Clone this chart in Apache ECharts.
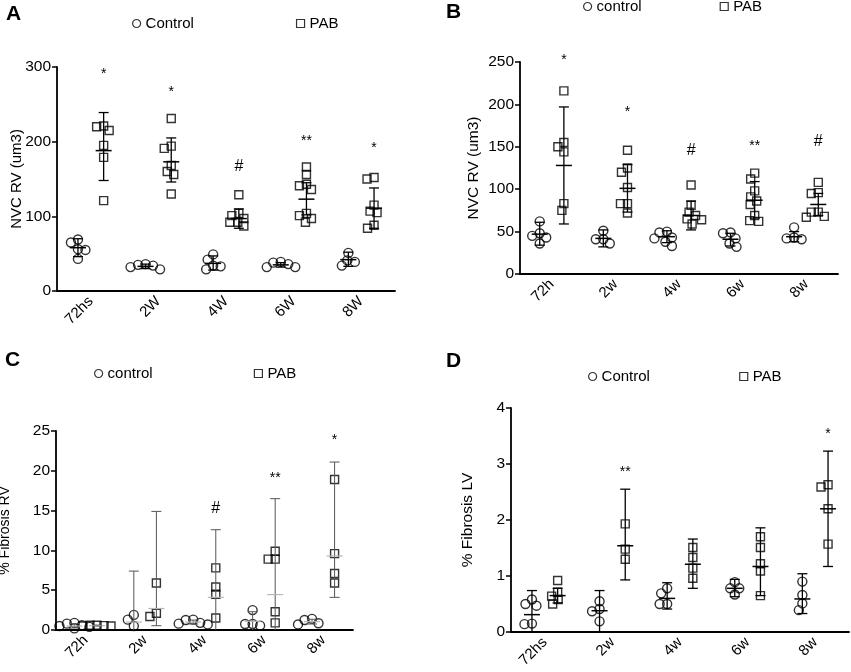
<!DOCTYPE html>
<html>
<head>
<meta charset="utf-8">
<script src="https://cdn.jsdelivr.net/npm/echarts@6.0.0/dist/echarts.min.js"></script>
<style>
  html, body { margin: 0; padding: 0; background: #fff; }
  #chart { width: 851px; height: 672px; }
</style>
</head>
<body>
<div id="chart"></div>
<script>
// ---- data ----
// panel A: NVC RV (um3)
var catA = ['72hs', '2W', '4W', '6W', '8W'];
var ticksA = [0, 100, 200, 300];
var ctrlA = [[69, 65, 56, 55, 43], [29, 32, 34, 36, 35], [49, 42, 34, 33, 29], [39, 38, 36, 32, 32], [51, 41, 39, 34]];
var pabA = [[221, 220, 215, 195, 179, 121], [231, 194, 191, 168, 160, 156, 130], [129, 104, 101, 97, 92, 92, 87],
            [166, 156, 143, 141, 136, 104, 101, 97, 92], [152, 150, 115, 107, 105, 88, 84]];
// [mean, low, high]
var ctrlBarsA = [[58, 46, 70], [33, 30, 36], [37, 28, 47], [35, 32, 38], [42, 33, 52]];
var pabBarsA = [[188, 148, 239], [173, 146, 205], [97, 84, 110], [123, 102, 145], [111, 84, 138]];
var marksA = ['*', '*', '#', '**', '*'];
var markYA = [295, 270, 167, 205, 196];

// panel B: NVC RV (um3)
var catB = ['72h', '2w', '4w', '6w', '8w'];
var ticksB = [0, 50, 100, 150, 200, 250];
var ctrlB = [[62, 48, 45, 43, 36], [51, 41, 41, 36], [50, 49, 43, 42, 38, 33], [49, 48, 42, 36, 32], [55, 43, 42, 41]];
var pabB = [[216, 155, 150, 144, 83, 75], [146, 125, 120, 102, 83, 83, 72], [105, 81, 73, 69, 65, 64, 59],
            [119, 112, 98, 91, 86, 82, 69, 63, 62], [108, 96, 95, 73, 73, 68, 67]];
var ctrlBarsB = [[47, 34, 61], [42, 32, 52], [44, 37, 51], [41, 33, 48], [44, 38, 50]];
var pabBarsB = [[128, 59, 197], [101, 73, 129], [69, 52, 86], [87, 66, 109], [82, 69, 95]];
var marksB = ['*', '*', '#', '**', '#'];
var markYB = [256, 194, 146, 154, 156];

// panel C: % Fibrosis RV
var catC = ['72h', '2w', '4w', '6w', '8w'];
var ticksC = [0, 5, 10, 15, 20, 25];
var ctrlC = [[0.9, 0.8, 0.6, 0.5, 0.4, 0.2], [1.9, 1.3, 0.5], [1.3, 1.25, 0.9, 0.8, 0.7], [2.5, 0.75, 0.75, 0.55], [1.4, 1.25, 0.85, 0.7]];
var pabC = [[0.6, 0.6, 0.55, 0.5, 0.5], [5.9, 2.1, 1.7], [7.8, 5.4, 4.5, 1.5], [9.9, 8.9, 8.9, 2.3, 0.9], [18.9, 9.6, 7.1, 5.9]];
var ctrlBarsC = [[0.5, 0.25, 0.8], [1.0, -5.4, 7.4], [1.0, 0.75, 1.25], [1.1, -0.1, 2.3], [1.05, 0.75, 1.35]];
var pabBarsC = [[0.55, 0.5, 0.62], [2.7, 0.54, 14.9], [4.1, -4.3, 12.6], [4.45, -7.6, 16.5], [9.3, 4.1, 21.1]];
var marksC = ['', '', '#', '**', '*'];
var markYC = [0, 0, 15.2, 19.4, 24.2];

// panel D: % Fibrosis LV
var catD = ['72hs', '2w', '4w', '6w', '8w'];
var ticksD = [0, 1, 2, 3, 4];
var ctrlD = [[0.58, 0.5, 0.47, 0.15, 0.14], [0.55, 0.41, 0.37, 0.19], [0.78, 0.69, 0.5, 0.5], [0.89, 0.78, 0.78, 0.67], [0.9, 0.66, 0.51, 0.39]];
var pabD = [[0.92, 0.71, 0.64, 0.58, 0.5], [1.93, 1.48, 1.3], [1.51, 1.33, 1.14, 0.96], [1.7, 1.51, 1.22, 1.09, 0.65], [2.63, 2.59, 2.2, 1.57]];
var ctrlBarsD = [[0.31, -0.12, 0.74], [0.38, -0.02, 0.74], [0.6, 0.41, 0.88], [0.78, 0.63, 0.94], [0.59, 0.33, 1.04]];
var pabBarsD = [[0.65, 0.52, 0.78], [1.54, 0.93, 2.55], [1.21, 0.78, 1.66], [1.17, 0.65, 1.86], [2.2, 1.17, 3.23]];
var marksD = ['', '**', '', '', '*'];
var markYD = [0, 2.9, 0, 0, 3.59];

// ---- layout ----
var FONT = 'Liberation Sans, Arial, Helvetica, sans-serif';
var panels = [
  { letter: 'A', cats: catA, ticks: ticksA, ctrl: ctrlA, pab: pabA, ctrlBars: ctrlBarsA, pabBars: pabBarsA, marks: marksA, markY: markYA,
    ctrlName: 'Control', yName: 'NVC RV (um3)', grid: { left: 57, top: 67, width: 338, height: 224 }, nameGap: 33, nameSize: 15,
    legend: { left: 132, top: 16, gap: 102 }, pos: { left: 6, top: 4 }, barColor: '#000', meanColor: '#000', barWidth: 1.3 },
  { letter: 'B', cats: catB, ticks: ticksB, ctrl: ctrlB, pab: pabB, ctrlBars: ctrlBarsB, pabBars: pabBarsB, marks: marksB, markY: markYB,
    ctrlName: 'control', yName: 'NVC RV (um3)', grid: { left: 520, top: 62, width: 318, height: 212 }, nameGap: 38, nameSize: 15.5,
    legend: { left: 583, top: -1, gap: 78 }, pos: { left: 446, top: 2 }, barColor: '#000', meanColor: '#000', barWidth: 1.3 },
  { letter: 'C', cats: catC, ticks: ticksC, ctrl: ctrlC, pab: pabC, ctrlBars: ctrlBarsC, pabBars: pabBarsC, marks: marksC, markY: markYC,
    ctrlName: 'control ', yName: '% Fibrosis RV', grid: { left: 56, top: 431, width: 297, height: 199 }, nameGap: 44, nameSize: 14,
    legend: { left: 94, top: 366, gap: 97 }, pos: { left: 5, top: 350 }, barColor: '#555', meanColor: '#b5b5b5', barWidth: 1 },
  { letter: 'D', cats: catD, ticks: ticksD, ctrl: ctrlD, pab: pabD, ctrlBars: ctrlBarsD, pabBars: pabBarsD, marks: marksD, markY: markYD,
    ctrlName: 'Control ', yName: '% Fibrosis LV', grid: { left: 511, top: 408, width: 338, height: 224 }, nameGap: 35, nameSize: 15.5,
    legend: { left: 588, top: 369, gap: 85 }, pos: { left: 446, top: 351 }, barColor: '#000', meanColor: '#000', barWidth: 1.3 }
];

var OFFSET = 0.19;   // group shift from category centre

// simple beeswarm: spread points sideways so markers don't sit on top of each other
function swarm(values, center, pxY, pxX, dist) {
  var order = values.map(function (v, i) { return i; }).sort(function (a, b) { return values[b] - values[a]; });
  var placed = [], out = [];
  order.forEach(function (i) {
    var py = values[i] * pxY, off = 0;
    for (var k = 0; k < 80; k++) {
      var c = (k % 2 ? -1 : 1) * Math.ceil(k / 2) * 0.5;
      var ok = placed.every(function (p) { return Math.hypot(p[0] - c, p[1] - py) >= dist; });
      if (ok) { off = c; break; }
    }
    placed.push([off, py]);
    out.push([center + off / pxX, values[i]]);
  });
  return out;
}

function barRenderer(p) {
  return function (params, api) {
    var x = api.value(0), mean = api.value(1), lo = api.value(2), hi = api.value(3);
    var pm = api.coord([x, mean]);
    var pl = api.coord([x, Math.max(lo, 0)]);
    var ph = api.coord([x, hi]);
    var st = { stroke: p.barColor, lineWidth: p.barWidth };
    var kids = [
      { type: 'line', shape: { x1: pm[0], y1: pl[1], x2: pm[0], y2: ph[1] }, style: st },
      { type: 'line', shape: { x1: pm[0] - 5, y1: ph[1], x2: pm[0] + 5, y2: ph[1] }, style: st },
      { type: 'line', shape: { x1: pm[0] - 8, y1: pm[1], x2: pm[0] + 8, y2: pm[1] }, style: { stroke: p.meanColor, lineWidth: p.barWidth + 0.2 } }
    ];
    if (lo > 0) kids.push({ type: 'line', shape: { x1: pm[0] - 5, y1: pl[1], x2: pm[0] + 5, y2: pl[1] }, style: st });
    return { type: 'group', children: kids };
  };
}

var option = {
  animation: false,
  backgroundColor: '#fff',
  textStyle: { fontFamily: FONT, color: '#000' },
  title: [], legend: [], grid: [], xAxis: [], yAxis: [], series: []
};

panels.forEach(function (p, i) {
  var yMax = p.ticks[p.ticks.length - 1];
  var step = p.ticks[1] - p.ticks[0];
  var pxY = p.grid.height / yMax, pxX = p.grid.width / p.cats.length;

  option.title.push({ text: p.letter, left: p.pos.left, top: p.pos.top, padding: 0,
    textStyle: { fontSize: 21, fontWeight: 'bold', fontFamily: FONT, color: '#000' } });

  option.legend.push({
    left: p.legend.left, top: p.legend.top, padding: 0, itemGap: p.legend.gap, itemWidth: 8, itemHeight: 8,
    selectedMode: false, textStyle: { fontSize: 15, color: '#000', fontFamily: FONT },
    data: [
      { name: p.ctrlName, icon: 'circle', itemStyle: { color: 'rgba(0,0,0,0)', borderColor: '#000', borderWidth: 1.2 } },
      { name: 'PAB' + ' '.repeat(i), icon: 'rect', itemStyle: { color: 'rgba(0,0,0,0)', borderColor: '#000', borderWidth: 1.2 } }
    ]
  });

  option.grid.push({ left: p.grid.left, top: p.grid.top, width: p.grid.width, height: p.grid.height,
    outerBoundsMode: 'none' });

  option.xAxis.push({
    type: 'category', gridIndex: i, data: p.cats, boundaryGap: true,
    axisLine: { onZero: false, lineStyle: { color: '#000', width: 1.8 } },
    axisTick: { alignWithLabel: true, length: 5, lineStyle: { color: '#000', width: 1.5 } },
    axisLabel: { rotate: 45, fontSize: 15, color: '#000', margin: 8, fontFamily: FONT },
    splitLine: { show: false }
  });
  option.xAxis.push({ type: 'value', gridIndex: i, min: -0.5, max: p.cats.length - 0.5, show: false });

  option.yAxis.push({
    type: 'value', gridIndex: i, min: p.ticks[0], max: yMax, interval: step,
    name: p.yName, nameLocation: 'middle', nameGap: p.nameGap, nameMoveOverlap: false,
    nameTextStyle: { fontSize: p.nameSize, color: '#000', fontFamily: FONT },
    axisLine: { show: true, onZero: false, lineStyle: { color: '#000', width: 1.8 } },
    axisTick: { show: true, length: 5, lineStyle: { color: '#000', width: 1.5 } },
    axisLabel: { fontSize: 15.5, color: '#000', margin: 6, fontFamily: FONT },
    splitLine: { show: false }
  });

  var ctrlPts = [], pabPts = [];
  p.ctrl.forEach(function (vals, c) { ctrlPts = ctrlPts.concat(swarm(vals, c - OFFSET, pxY, pxX, 7.5)); });
  p.pab.forEach(function (vals, c) { pabPts = pabPts.concat(swarm(vals, c + OFFSET, pxY, pxX, 7)); });

  var hollow = { color: 'rgba(0,0,0,0)', borderColor: '#000', borderWidth: 1.4 };
  option.series.push({ name: p.ctrlName, type: 'scatter', xAxisIndex: 2 * i + 1, yAxisIndex: i,
    symbol: 'circle', symbolSize: 9, itemStyle: hollow, data: ctrlPts, z: 3 });
  option.series.push({ name: 'PAB' + ' '.repeat(i), type: 'scatter', xAxisIndex: 2 * i + 1, yAxisIndex: i,
    symbol: 'rect', symbolSize: 8, itemStyle: hollow, data: pabPts, z: 3 });

  var bars = [];
  p.ctrlBars.forEach(function (b, c) { bars.push([c - OFFSET, b[0], b[1], b[2]]); });
  p.pabBars.forEach(function (b, c) { bars.push([c + OFFSET, b[0], b[1], b[2]]); });
  option.series.push({ type: 'custom', xAxisIndex: 2 * i + 1, yAxisIndex: i, renderItem: barRenderer(p),
    encode: { x: 0, y: 1 }, data: bars, z: 4, silent: true });

  var markData = [], markText = [];
  p.marks.forEach(function (m, c) {
    if (m) { markData.push([c + OFFSET, p.markY[c]]); markText.push(m); }
  });
  option.series.push({ type: 'custom', xAxisIndex: 2 * i + 1, yAxisIndex: i, silent: true, z: 5,
    encode: { x: 0, y: 1 }, data: markData,
    renderItem: function (params, api) {
      var pt = api.coord([api.value(0), api.value(1)]);
      var t = markText[params.dataIndex];
      var star = t.indexOf('*') >= 0;
      return { type: 'text', x: pt[0], y: pt[1] + (star ? 3 : 0),
        style: { text: t, fill: '#000', align: 'center', verticalAlign: 'middle',
          font: (star ? 14 : 16) + 'px ' + FONT } };
    }
  });
});

var chart = echarts.init(document.getElementById('chart'));
chart.setOption(option);
</script>
</body>
</html>
